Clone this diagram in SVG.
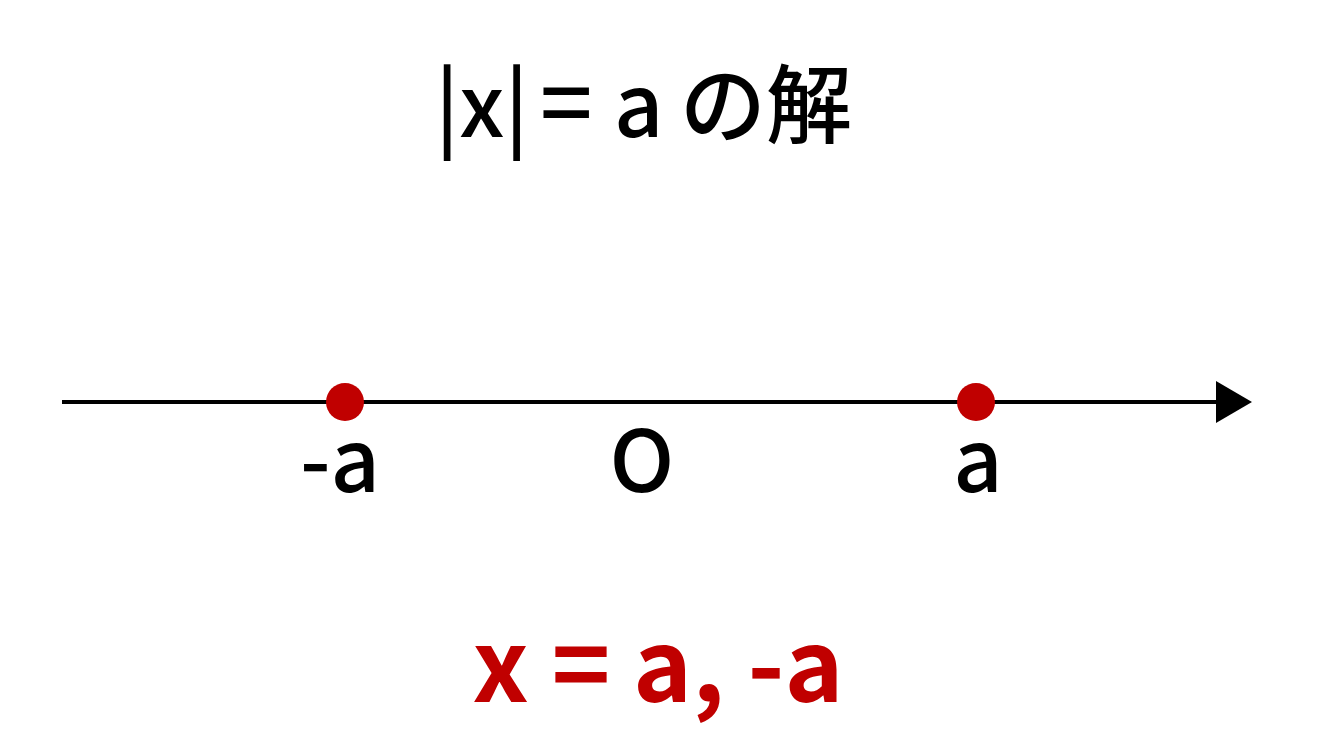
<svg xmlns="http://www.w3.org/2000/svg" width="1333" height="750" viewBox="0 0 1333 750">
<style>
.t{font-family:"Noto Sans CJK JP","Noto Sans",sans-serif;font-weight:500;fill:#000;}
.lbl{font-size:86px;text-anchor:middle;}
.ans{font-family:"Noto Sans CJK JP","Noto Sans",sans-serif;font-weight:bold;font-size:100px;fill:#C00000;}
</style>
<rect width="1333" height="750" fill="#fff"/>
<g id="title">
<text class="t" font-size="86" y="137"><tspan x="435">|x|</tspan><tspan x="540" font-size="92">=</tspan><tspan x="614">a</tspan><tspan x="680">の解</tspan></text>
</g>
<g id="connectors">
<line x1="62" y1="402" x2="1220" y2="402" stroke="#000" stroke-width="4"/>
<polygon points="1216,381 1252,402 1216,423" fill="#000"/>
</g>
<g id="point-neg-a">
<circle cx="345" cy="402" r="19" fill="#C00000"/>
<text class="t lbl" x="340" y="492">-a</text>
</g>
<g id="origin">
<text class="t lbl" x="642" y="492">O</text>
</g>
<g id="point-a">
<circle cx="976" cy="402" r="19" fill="#C00000"/>
<text class="t lbl" x="978" y="492">a</text>
</g>
<g id="answer">
<text class="ans" x="658" y="702" text-anchor="middle">x = a, -a</text>
</g>
</svg>
